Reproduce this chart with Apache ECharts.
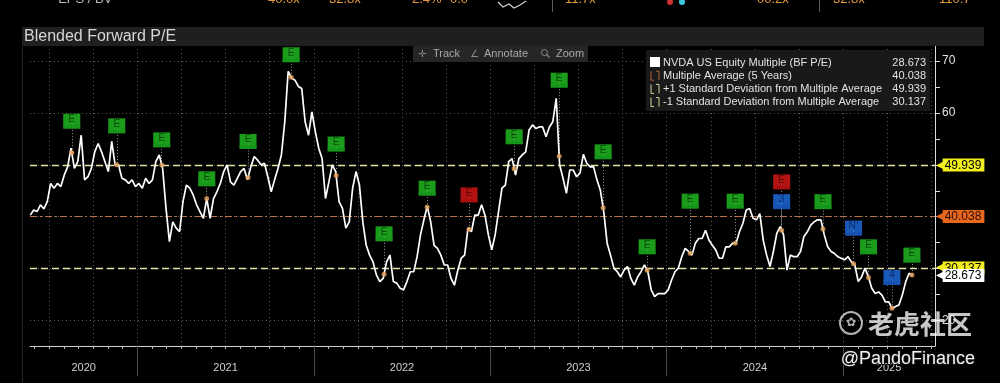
<!DOCTYPE html>
<html><head><meta charset="utf-8">
<script src="https://cdn.jsdelivr.net/npm/echarts@6/dist/echarts.min.js"></script>
<style>html,body{margin:0;padding:0;background:#000;}#c{width:1000px;height:383px;}</style>
</head><body><div id="c"></div>
<script>
// ---------- DATA ----------
const chartTitle = 'Blended Forward P/E';
// weekly blended forward P/E samples, late May 2020 -> late May 2025
const startMonth = 4.72;   // months after Jan 1 2020 of first sample
const endMonth = 64.72;    // months after Jan 1 2020 of last sample
const peBlock1 = [40.3,41.3,41.0,42.3,41.5,42.9,46.4,45.5,46.4,45.8,48.0,49.6,53.2,49.3,50.6,55.7,47.1,47.7,49.3,52.5,54.1,52.5,50.6,48.7,54.5,50.0,50.0,47.4,47.1,46.4,47.1,45.8,46.4,45.5,47.4,46.4,47.1,50.6,51.9,49.3,41.6,35.2,39.0,37.8,37.1,42.9,46.1,45.5,44.2,42.3,41.0,39.7,43.5,39.7];
const peBlock2 = [43.5,44.8,46.4,48.7,50.0,46.7,46.1,47.4,48.7,49.3,47.1,49.6,51.6,50.9,50.0,50.3,47.7,44.8,47.1,49.3,51.9,58.3,68.0,66.7,66.3,65.1,64.7,58.3,55.7,60.2,56.4,53.2,51.2,43.5,46.7,50.0,48.7,42.9,41.6,37.8,39.0,45.5,48.7,46.1,39.0,34.5,32.6,31.3,28.8,27.5,28.1,31.3,32.6];
const peBlock3 = [27.5,27.2,26.2,25.9,27.5,29.4,29.4,32.3,36.5,39.4,42.0,39.0,34.5,33.9,32.6,30.7,30.7,28.1,26.8,29.7,32.0,32.6,37.8,37.1,40.3,40.3,42.3,40.3,36.5,33.6,36.5,41.0,45.5,46.1,50.6,51.2,48.0,51.2,51.9,52.5,56.7,57.7,57.0,57.3,57.3,55.4,57.3,58.3,62.8,50.0,47.4,44.5,49.0];
const peBlock4 = [49.0,47.7,48.4,52.0,50.3,49.6,49.6,47.1,45.1,41.0,34.9,32.6,30.1,29.4,28.4,29.7,30.4,28.1,26.8,28.4,29.4,30.7,29.4,25.9,24.6,25.2,25.2,25.2,25.9,27.8,29.4,30.1,32.3,33.9,33.3,32.6,34.9,35.8,35.8,37.4,35.5,34.5,33.6,32.0,32.0,34.2,34.2,34.9,34.9,37.1,38.7,41.3,41.6];
const peBlock5 = [39.7,39.4,40.6,35.5,32.6,30.4,33.3,36.8,38.1,36.5,29.7,32.6,32.3,32.3,33.3,36.2,37.1,38.4,39.0,39.4,39.4,36.5,34.2,33.3,32.9,32.3,32.0,31.7,32.3,31.3,30.7,27.5,28.4,30.1,28.4,26.2,25.2,25.5,24.9,23.6,23.6,22.3,22.7,23.0,24.9,27.5,29.1,28.673];

const legendNames = ['NVDA US Equity Multiple (BF P/E)','Multiple Average (5 Years)','+1 Standard Deviation from Multiple Average','-1 Standard Deviation from Multiple Average'];
const legendValues = [28.673, 40.038, 49.939, 30.137];

const years = ['2020','2021','2022','2023','2024','2025'];
const yearStartMonths = [0,12,24,36,48,60];
const yTickValues = [20,25,30,35,40,45,50,55,60,65,70];
const yLabelValues = [20,30,40,50,60,70];
const yGridValues = [20,30,40,50,60,70];

// event markers (earnings etc.): month position, box level, text, kind
const eventMonths = [7.54,10.60,13.66,16.72,19.53,22.46,25.52,28.78,31.71,34.56,37.63,40.69,43.68,46.67,49.60,52.66,55.82,55.82,58.63,60.71,61.73,63.32,64.68];
const eventLevels = [58.4,57.5,54.8,47.3,54.5,71.2,54.0,36.7,45.5,44.2,55.4,66.3,52.5,34.2,43.0,43.0,46.7,42.9,42.9,37.8,34.2,28.3,32.6];
const eventTexts  = ['E','E','E','E','E','E','E','E','E','E','E','E','E','E','E','E','E','3','E','N\u207A','E','4','E'];
const eventKinds  = ['earn','earn','earn','earn','earn','earn','earn','earn','earn','miss','earn','earn','earn','earn','earn','earn','miss','info','earn','info','earn','info','earn'];

// fragments of the table row above the chart (cut off at the top edge)
const headerTexts = ['\u2022 EPS / BV', '40.0x', '32.8x', '2.4%', '0.0', '11.7x', '00.2x', '32.8x', '110.7'];

// ---------- BUILD ----------
const FONT = "'Liberation Sans', Arial, sans-serif";
const pe = [].concat(peBlock1, peBlock2, peBlock3, peBlock4, peBlock5);
const step = (endMonth - startMonth) / (pe.length - 1);
const lineData = pe.map((v, i) => [startMonth + i * step, v]);
function valueAt(m) {
  const f = (m - startMonth) / step;
  const i = Math.floor(f);
  if (i < 0) return pe[0];
  if (i >= pe.length - 1) return pe[pe.length - 1];
  const t = f - i;
  return pe[i] * (1 - t) + pe[i + 1] * t;
}
const xMin = 4.70, xMax = 66.25, yMin = 15.09, yMax = 72.89;

const monthTicks = [];
for (let m = Math.ceil(xMin); m <= Math.floor(xMax); m++) monthTicks.push(m);
const quarterLines = monthTicks.filter(m => m % 3 === 0);
const yearSeps = yearStartMonths.filter(m => m > xMin && m < xMax);
const yearLabelPos = years.map((y, k) => {
  const a = Math.max(yearStartMonths[k], xMin), b = Math.min(yearStartMonths[k] + 12, xMax);
  return (a + b) / 2;
});
function yearFor(v) {
  let idx = 0;
  yearLabelPos.forEach((p, k) => { if (Math.abs(p - v) < Math.abs(yearLabelPos[idx] - v)) idx = k; });
  return years[idx];
}

const kindColor = { earn: '#22c422', miss: '#e01818', info: '#1f6fe6' };
const kindStrip = { earn: '#14941a', miss: '#a80e0e', info: '#1650b0' };
const kindText = { earn: '#053305', miss: '#4a0404', info: '#071d52' };

const lastVal = legendValues[0], avgVal = legendValues[1], upVal = legendValues[2], dnVal = legendValues[3];

function tag(val, bg, fg) {
  return {
    show: true, position: 'end', distance: 1,
    formatter: '{a|\u25C0}{t|' + val.toFixed(3) + '}',
    rich: {
      a: { color: bg, fontSize: 10, padding: [0, -1, 0, 0], fontFamily: 'DejaVu Sans' },
      t: { backgroundColor: bg, color: fg, fontSize: 12, fontFamily: FONT, padding: [1, 3, 0, 2], lineHeight: 13 }
    }
  };
}

const uniqEventMonths = [...new Set(eventMonths)];
const headerX = [50, 268, 329, 412, 450, 565, 757, 833, 939];
const headerColor = ['#bdbdbd', '#e39a3e', '#e39a3e', '#e39a3e', '#e39a3e', '#e39a3e', '#e39a3e', '#e39a3e', '#e39a3e'];

const option = {
  backgroundColor: '#000',
  animation: false,
  grid: { left: 30, right: 65, top: 46, bottom: 37 },
  xAxis: [{
    type: 'value', min: xMin, max: xMax,
    axisLine: { show: true, lineStyle: { color: '#cfcfcf', width: 1 } },
    axisTick: { show: true, customValues: monthTicks, length: 3, lineStyle: { color: '#bdbdbd' } },
    axisLabel: { show: true, customValues: yearLabelPos, formatter: v => yearFor(v), color: '#cfcfcf', fontSize: 11, fontFamily: FONT, margin: 16 },
    splitLine: { show: false }
  }, {
    type: 'value', min: xMin, max: xMax, position: 'bottom',
    axisLine: { show: false },
    axisTick: { show: true, customValues: yearSeps, length: 30, lineStyle: { color: '#4a4a4a' } },
    axisLabel: { show: false },
    splitLine: { show: false }
  }],
  yAxis: {
    type: 'value', position: 'right', min: yMin, max: yMax,
    axisLine: { show: true, lineStyle: { color: '#dcdcdc', width: 1 } },
    axisTick: { show: true, customValues: yTickValues, length: 5, lineStyle: { color: '#dcdcdc' } },
    axisLabel: { show: true, customValues: yLabelValues, color: '#e0e0e0', fontSize: 12, fontFamily: FONT, margin: 7 },
    splitLine: { show: false }
  },
  series: [
    { // grid lines
      type: 'line', data: [], silent: true, z: 1,
      markLine: {
        silent: true, symbol: 'none', animation: false,
        label: { show: false },
        lineStyle: { type: [1, 3], color: '#5a5a5a', width: 1 },
        data: quarterLines.map(q => ({ xAxis: q })).concat(yGridValues.map(v => ({ yAxis: v })))
      }
    },
    { // statistic lines
      type: 'line', data: [], silent: true, z: 3,
      markLine: {
        silent: true, symbol: 'none', animation: false,
        data: [
          { yAxis: avgVal, lineStyle: { type: [7, 3, 2, 3], color: '#b8734a', width: 1 }, label: tag(avgVal, '#e8671c', '#2a0c00') },
          { yAxis: upVal, lineStyle: { type: [7, 4], color: '#e4e0a2', width: 1.3 }, label: tag(upVal, '#f3ef1e', '#000') },
          { yAxis: dnVal, lineStyle: { type: [7, 4], color: '#e4e0a2', width: 1.3 }, label: tag(dnVal, '#f3ef1e', '#000') }
        ]
      }
    },
    { // connectors from event boxes to line
      type: 'line', data: [], silent: true, z: 4,
      markLine: {
        silent: true, symbol: 'none', animation: false, label: { show: false },
        lineStyle: { type: [1, 2], color: '#9a9a9a', width: 1 },
        data: eventMonths.map((m, k) => [{ coord: [m, eventLevels[k]] }, { coord: [m, valueAt(m)] }])
      }
    },
    { // last value tag
      type: 'line', data: [], silent: true, z: 7,
      markLine: {
        silent: true, symbol: 'none', animation: false,
        lineStyle: { width: 0, color: 'rgba(0,0,0,0)' },
        data: [{ yAxis: lastVal, label: tag(lastVal, '#ffffff', '#000') }]
      }
    },
    { // main line
      name: legendNames[0], type: 'line', data: lineData, showSymbol: false, z: 6,
      lineStyle: { color: '#ffffff', width: 1.7 }, itemStyle: { color: '#fff' }
    },
    { // orange event dots on the line
      type: 'scatter', z: 7, silent: true, symbolSize: 5,
      itemStyle: { color: '#e2a05a' },
      data: uniqEventMonths.map(m => [m, valueAt(m)])
    },
    { // event boxes
      type: 'scatter', z: 8, silent: true, symbol: 'rect', symbolSize: [17, 15],
      data: eventMonths.map((m, k) => ({
        value: [m, eventLevels[k]],
        itemStyle: { color: kindColor[eventKinds[k]] },
        label: {
          show: true, position: 'inside', offset: [0, -2],
          formatter: eventTexts[k], color: kindText[eventKinds[k]], fontSize: 10, fontFamily: FONT
        }
      }))
    },
    { // event box bottom strips
      type: 'scatter', z: 9, silent: true, symbol: 'rect', symbolSize: [17, 3], symbolOffset: [0, 5.5],
      data: eventMonths.map((m, k) => ({
        value: [m, eventLevels[k]],
        itemStyle: { color: kindStrip[eventKinds[k]] }
      }))
    }
  ],
  graphic: [
    // title bar
    { type: 'rect', z: 100, shape: { x: 22, y: 27, width: 962, height: 19 }, style: { fill: '#1f1f1f' } },
    { type: 'text', z: 101, x: 24, y: 36.5, style: { text: chartTitle, fill: '#d6d6d6', font: '16px ' + FONT, textVerticalAlign: 'middle' } },
    // left panel edge
    { type: 'line', z: 100, shape: { x1: 22.5, y1: 46, x2: 22.5, y2: 383 }, style: { stroke: '#262626', lineWidth: 1 } },
    // header row remnants
    { type: 'line', z: 100, shape: { x1: 552.5, y1: 0, x2: 552.5, y2: 12 }, style: { stroke: '#5a5a5a', lineWidth: 1 } },
    { type: 'line', z: 100, shape: { x1: 819.5, y1: 0, x2: 819.5, y2: 12 }, style: { stroke: '#5a5a5a', lineWidth: 1 } },
    { type: 'polyline', z: 100, shape: { points: [[498, 2], [503, 7], [509, 4], [514, 8], [520, 5], [526, 1]] }, style: { stroke: '#d0d0d0', fill: 'none', lineWidth: 1.2 } },
    { type: 'circle', z: 100, shape: { cx: 670, cy: 2, r: 3 }, style: { fill: '#d03030' } },
    { type: 'circle', z: 100, shape: { cx: 682, cy: 2, r: 3 }, style: { fill: '#40c8e0' } },
    // toolbar
    { type: 'rect', z: 100, shape: { x: 413, y: 46, width: 175, height: 16 }, style: { fill: '#262626' } },
    { type: 'text', z: 101, x: 418, y: 54, style: { text: '\u271B', fill: '#8a8a8a', font: '10px DejaVu Sans', textVerticalAlign: 'middle' } },
    { type: 'text', z: 101, x: 433, y: 54, style: { text: 'Track', fill: '#a8a8a8', font: '11px ' + FONT, textVerticalAlign: 'middle' } },
    { type: 'text', z: 101, x: 470, y: 54, style: { text: '\u2220', fill: '#8a8a8a', font: '10px DejaVu Sans', textVerticalAlign: 'middle' } },
    { type: 'text', z: 101, x: 484, y: 54, style: { text: 'Annotate', fill: '#a8a8a8', font: '11px ' + FONT, textVerticalAlign: 'middle' } },
    { type: 'circle', z: 101, shape: { cx: 544.5, cy: 52.5, r: 3 }, style: { fill: 'none', stroke: '#8a8a8a', lineWidth: 1 } },
    { type: 'line', z: 101, shape: { x1: 546.5, y1: 54.5, x2: 549.5, y2: 57.5 }, style: { stroke: '#8a8a8a', lineWidth: 1.2 } },
    { type: 'text', z: 101, x: 556, y: 54, style: { text: 'Zoom', fill: '#a8a8a8', font: '11px ' + FONT, textVerticalAlign: 'middle' } },
    // legend box
    { type: 'rect', z: 100, shape: { x: 646, y: 50, width: 284, height: 61 }, style: { fill: '#191919' } },
    { type: 'rect', z: 101, shape: { x: 650, y: 57, width: 10, height: 10 }, style: { fill: '#ffffff' } }
  ].concat(headerTexts.map((t, k) => ({
    type: 'text', z: 100, x: headerX[k], y: 6,
    style: { text: t, fill: headerColor[k], font: '13px ' + FONT, textBaseline: 'alphabetic', textVerticalAlign: 'bottom' }
  }))).concat(legendNames.map((n, k) => ({
    type: 'text', z: 101, x: 663, y: 62.5 + k * 13.2,
    style: { text: n, fill: '#e2e2e2', font: '11px ' + FONT, textVerticalAlign: 'middle' }
  }))).concat(legendValues.map((v, k) => ({
    type: 'text', z: 101, x: 926, y: 62.5 + k * 13.2,
    style: { text: v.toFixed(3), fill: '#e2e2e2', font: '11px ' + FONT, textAlign: 'right', textVerticalAlign: 'middle' }
  }))).concat([1, 2, 3].map(k => ({
    type: 'polyline', z: 101,
    shape: { points: [[651, 58 + k * 13.2], [651, 67 + k * 13.2], [654, 67 + k * 13.2]] },
    style: { stroke: k === 1 ? '#b0643a' : '#d8d49a', fill: 'none', lineWidth: 1 }
  }))).concat([1, 2, 3].map(k => ({
    type: 'polyline', z: 101,
    shape: { points: [[656, 58 + k * 13.2], [659, 58 + k * 13.2], [659, 67 + k * 13.2]] },
    style: { stroke: k === 1 ? '#b0643a' : '#d8d49a', fill: 'none', lineWidth: 1 }
  }))).concat([
    // watermark
    { type: 'circle', z: 110, shape: { cx: 851, cy: 323, r: 11 }, style: { fill: 'none', stroke: 'rgba(255,255,255,0.7)', lineWidth: 2 } },
    { type: 'text', z: 110, x: 851, y: 323, style: { text: '\u273F', fill: 'rgba(255,255,255,0.7)', font: '12px DejaVu Sans', textAlign: 'center', textVerticalAlign: 'middle' } },
    { type: 'text', z: 110, x: 868, y: 324, style: { text: '老虎社区', fill: 'rgba(255,255,255,0.78)', font: 'bold 26px "Noto Sans CJK SC"', textVerticalAlign: 'middle' } },
    { type: 'text', z: 110, x: 975, y: 359, style: { text: '@PandoFinance', fill: '#f2f2f2', font: '18px ' + FONT, textAlign: 'right', textVerticalAlign: 'middle', stroke: '#111', lineWidth: 2 } }
  ])
};

const chart = echarts.init(document.getElementById('c'), null, { width: 1000, height: 383 });
chart.setOption(option);
</script>
</body></html>
